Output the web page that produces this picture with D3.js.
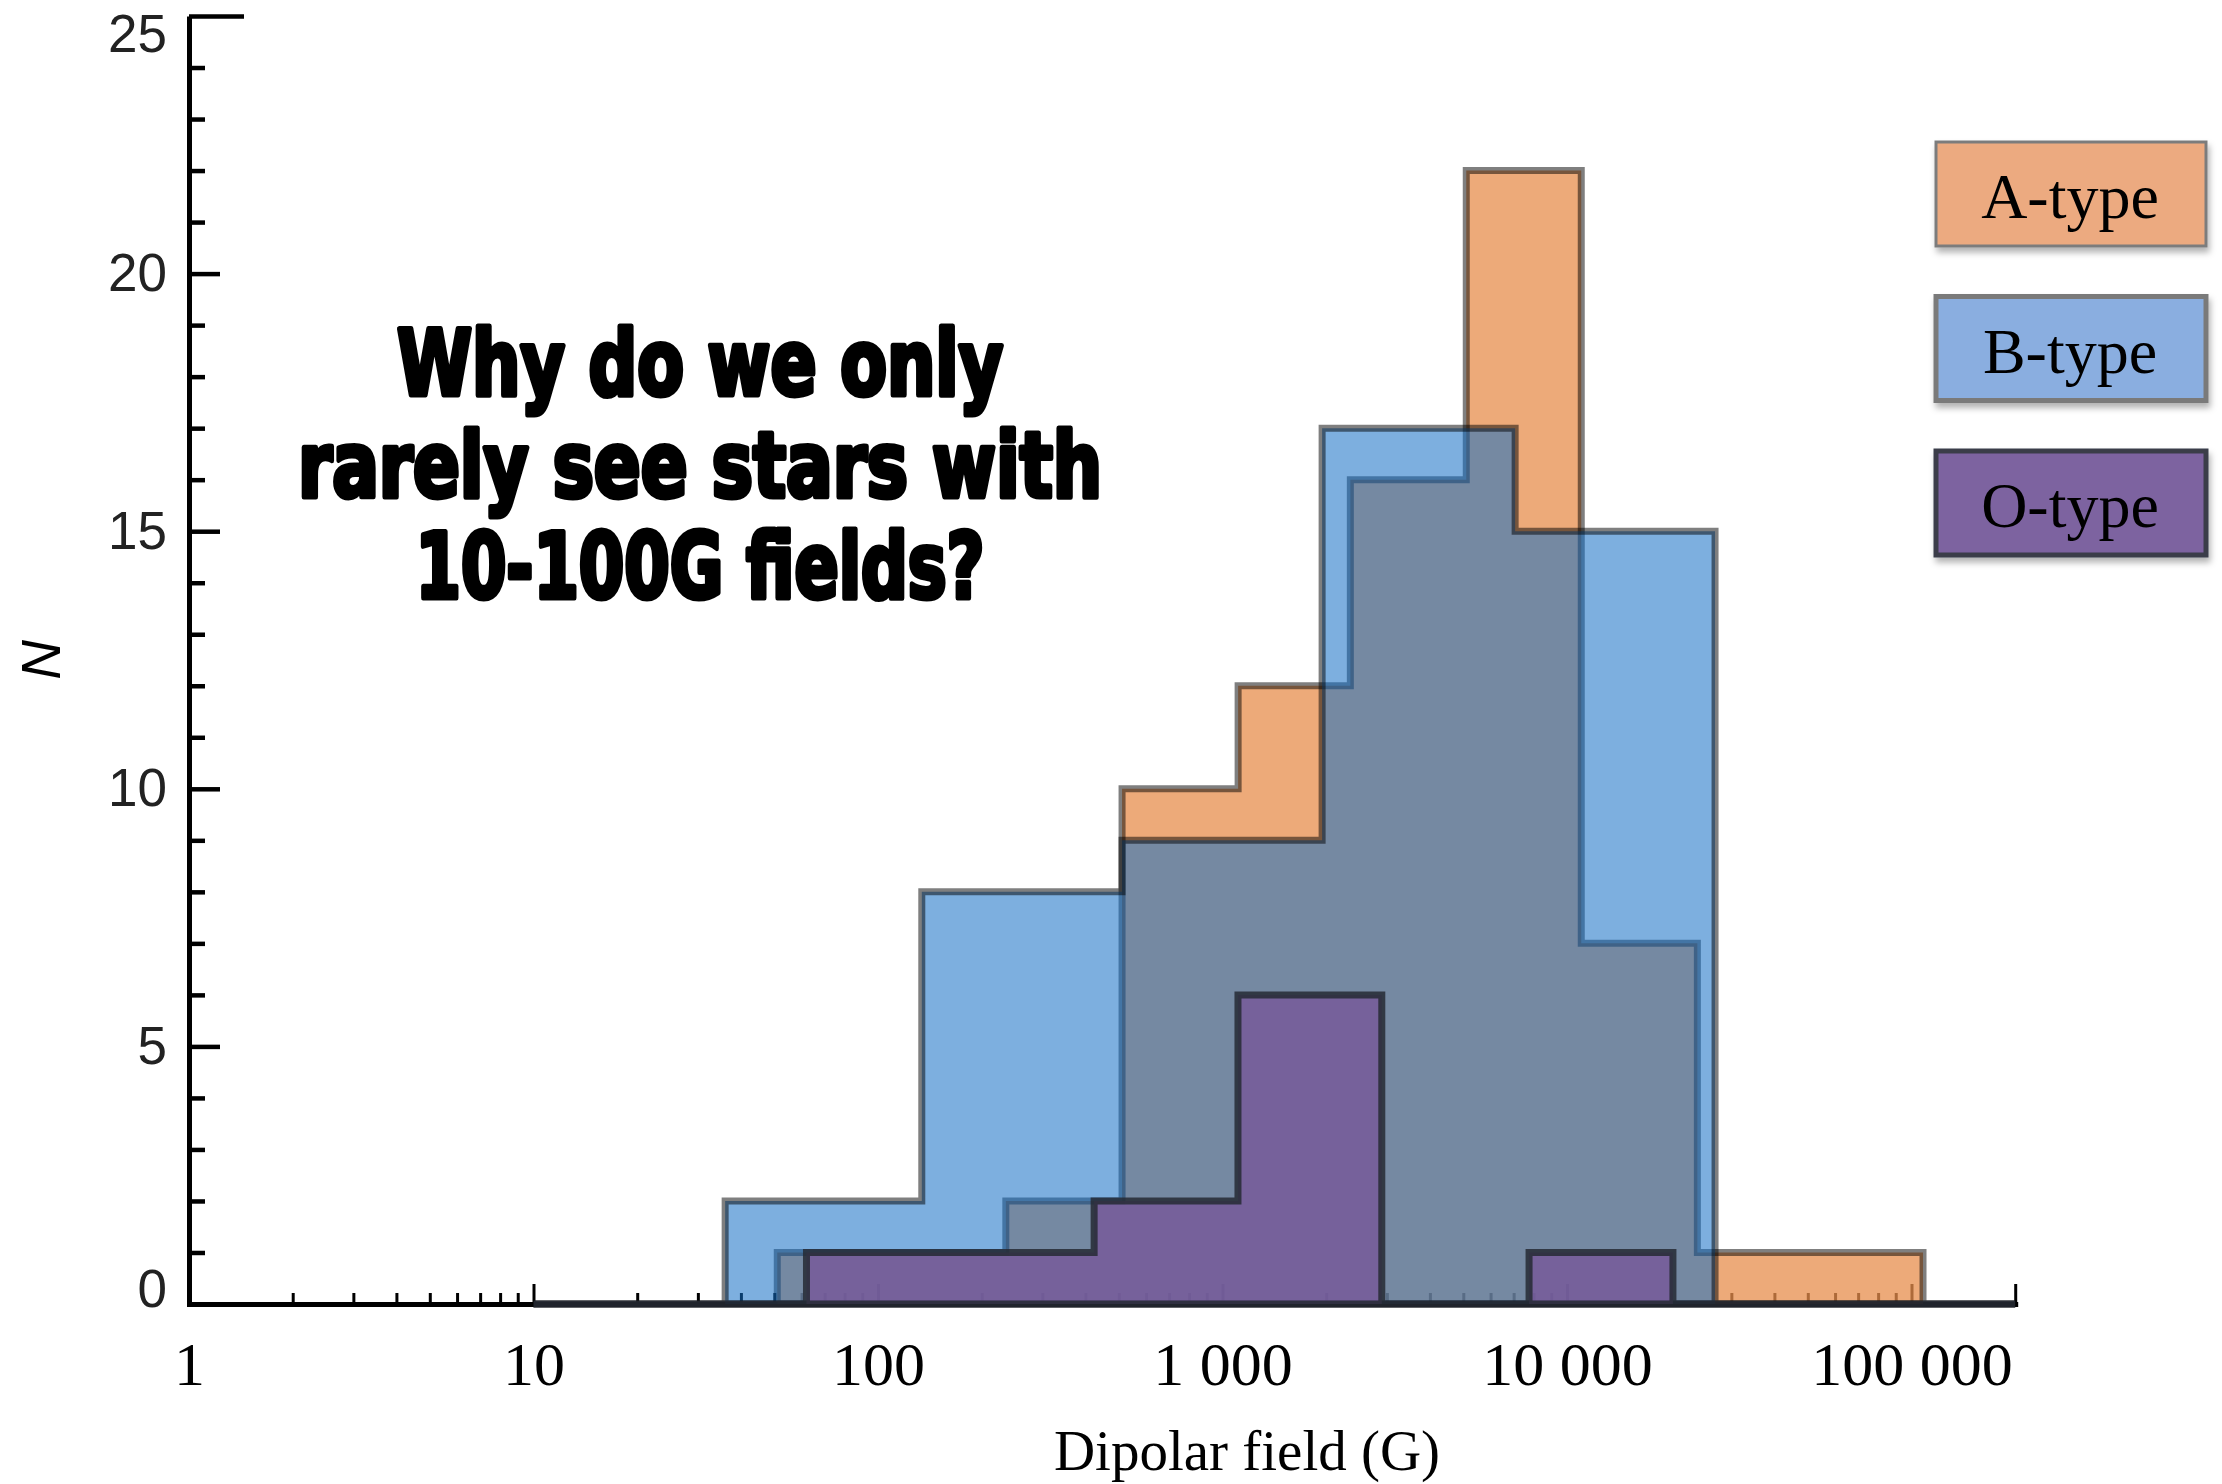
<!DOCTYPE html>
<html>
<head>
<meta charset="utf-8">
<script src="https://cdnjs.cloudflare.com/ajax/libs/d3/7.8.5/d3.min.js"></script>
<style>
  body { margin: 0; background: #fff; }
  svg { display: block; }
</style>
</head>
<body>
<svg width="2222" height="1484"></svg>
<script>

// Data

var fieldMax = 2e5;     // right end of the log axis
var histStart = 10;     // histogram outlines run along zero from here

// A-type stars (bin edges in G, counts per bin)
var aEdges = [51, 235, 511, 1110, 2350, 5100, 11000, 23900, 108000];
var aCounts = [1, 2, 10, 12, 16, 22, 7, 1];

// B-type stars
var bEdges = [36, 134, 511, 1946, 7070, 26900];
var bCounts = [2, 8, 9, 17, 15];

// O-type stars
var oEdges = [62, 424, 1109, 2900, 7760, 20300];
var oCounts = [1, 2, 6, 0, 1];

var xTickValues = [1, 10, 100, 1000, 10000, 100000];
var xTickLabels = ["1", "10", "100", "1 000", "10 000", "100 000"];
var yTickValues = [0, 5, 10, 15, 20, 25];

var legendNames = ["A-type", "B-type", "O-type"];
var noteLines = ["Why do we only", "rarely see stars with", "10-100G fields?"];


var svg = d3.select("svg");

svg.append("rect").attr("width", 2222).attr("height", 1484).attr("fill", "#fff");

var x = d3.scaleLog().domain([1, fieldMax]).range([189, 189 + 344.5 * Math.log10(fieldMax)]),
    y = d3.scaleLinear().domain([0, 25]).range([1304, 16]);

var serif = "'Liberation Serif', 'Times New Roman', serif",
    sans = "'Liberation Sans', Arial, sans-serif";

// ---- y axis ----
var yMinor = d3.range(0, 26).filter(function(v) { return v % 5 != 0; });

svg.append("g")
    .attr("transform", "translate(" + x(1) + ",0)")
    .call(d3.axisLeft(y).tickValues(yMinor).tickSize(-16).tickSizeOuter(0).tickFormat(""))
    .call(function(g) { g.select(".domain").attr("stroke-width", 5).attr("stroke", "#000"); })
    .selectAll(".tick line").attr("stroke", "#000").attr("stroke-width", 4.5);

var yAxis = svg.append("g")
    .attr("transform", "translate(" + x(1) + ",0)")
    .call(d3.axisLeft(y).tickValues(yTickValues).tickSize(-31).tickSizeOuter(0).tickPadding(22))
    .attr("font-family", sans)
    .attr("font-size", 53);

yAxis.select(".domain").remove();
yAxis.selectAll(".tick line")
    .attr("stroke", "#000")
    .attr("stroke-width", 4.5)
    .attr("x2", function(d) { return d == 25 ? 55 : 31; });
yAxis.selectAll(".tick text")
    .attr("fill", "#222")
    .attr("y", function(d) { return d == 25 ? 19 : (d == 0 ? -14 : 0); });

// ---- x axis ----
var xAll = x.ticks();

var xAxis = svg.append("g")
    .attr("transform", "translate(0," + y(0) + ")")
    .call(d3.axisBottom(x).tickValues(xAll).tickSize(-11).tickSizeOuter(0).tickFormat(""));

xAxis.select(".domain").attr("stroke", "#000").attr("stroke-width", 5).attr("stroke-linecap", "square");
xAxis.selectAll(".tick line")
    .attr("stroke", "#000")
    .attr("stroke-width", 3)
    .attr("y2", function(d) {
      var isDecade = Math.abs(Math.log10(d) - Math.round(Math.log10(d))) < 1e-9;
      return (isDecade || d == fieldMax) ? -20 : -11;
    });

var xLabels = svg.append("g")
    .attr("transform", "translate(0," + y(0) + ")")
    .call(d3.axisBottom(x).tickValues(xTickValues).tickSize(0).tickPadding(37)
      .tickFormat(function(d, i) { return xTickLabels[i]; }))
    .attr("font-family", serif)
    .attr("font-size", 62);
xLabels.select(".domain").remove();
xLabels.selectAll(".tick text").attr("fill", "#000");

// axis titles
svg.append("text")
    .attr("x", 1247)
    .attr("y", 1470)
    .attr("text-anchor", "middle")
    .attr("font-family", serif)
    .attr("font-size", 57)
    .attr("fill", "#000")
    .text("Dipolar field (G)");

svg.append("text")
    .attr("transform", "translate(41,660) rotate(-90)")
    .attr("text-anchor", "middle")
    .attr("dominant-baseline", "central")
    .attr("font-family", sans)
    .attr("font-style", "italic")
    .attr("font-size", 55)
    .attr("fill", "#000")
    .text("N");

// ---- histograms ----
function steps(edges, counts) {
  var pts = [{f: histStart, n: 0}];
  edges.forEach(function(e, i) {
    pts.push({f: e, n: i < counts.length ? counts[i] : 0});
  });
  pts.push({f: fieldMax, n: 0});
  return pts;
}

var area = d3.area()
    .curve(d3.curveStepAfter)
    .x(function(d) { return x(d.f); })
    .y0(y(0))
    .y1(function(d) { return y(d.n); });

var series = [
  {name: "A", pts: steps(aEdges, aCounts), fill: "#e78e4c", fo: 0.75, stroke: "#000", so: 0.5},
  {name: "B", pts: steps(bEdges, bCounts), fill: "#136dc5", fo: 0.55, stroke: "#000", so: 0.5},
  {name: "O", pts: steps(oEdges, oCounts), fill: "#77579a", fo: 0.8, stroke: "#262a34", so: 0.85}
];

svg.selectAll(".hist")
    .data(series)
    .enter().append("path")
    .attr("class", "hist")
    .attr("d", function(s) { return area(s.pts); })
    .attr("fill", function(s) { return s.fill; })
    .attr("fill-opacity", function(s) { return s.fo; })
    .attr("stroke", function(s) { return s.stroke; })
    .attr("stroke-opacity", function(s) { return s.so; })
    .attr("stroke-width", 7)
    .attr("stroke-linejoin", "miter");

// ---- question note ----
var noteWidths = [606, 804, 569];

svg.append("g")
    .selectAll("text")
    .data(noteLines)
    .enter().append("text")
    .attr("x", 700)
    .attr("y", function(d, i) { return 395 + i * 101.5; })
    .attr("text-anchor", "middle")
    .attr("font-family", "'Liberation Sans Narrow', 'DejaVu Sans Condensed', 'Arial Narrow', sans-serif")
    .attr("font-weight", "bold")
    .attr("font-size", 90)
    .attr("textLength", function(d, i) { return noteWidths[i]; })
    .attr("lengthAdjust", "spacingAndGlyphs")
    .attr("fill", "#000")
    .attr("stroke", "#000")
    .attr("stroke-width", 5)
    .attr("stroke-linejoin", "round")
    .text(function(d) { return d; });

// ---- legend ----
var legendFill = ["#ecaa80", "#8aaee0", "#7d63a0"],
    legendStroke = ["#7c7c7c", "#7a7a7a", "#3a3d4a"],
    legendStrokeW = [3, 5, 5];

var defs = svg.append("defs");
defs.append("filter")
    .attr("id", "shadow")
    .attr("x", "-10%").attr("y", "-10%").attr("width", "130%").attr("height", "140%")
  .append("feDropShadow")
    .attr("dx", 2).attr("dy", 5).attr("stdDeviation", 3)
    .attr("flood-color", "#000").attr("flood-opacity", 0.3);

var legend = svg.selectAll(".legend")
    .data(legendNames)
    .enter().append("g")
    .attr("class", "legend")
    .attr("transform", function(d, i) { return "translate(1936," + (142 + i * 154.5) + ")"; });

legend.append("rect")
    .attr("width", 270)
    .attr("height", 104)
    .attr("fill", function(d, i) { return legendFill[i]; })
    .attr("stroke", function(d, i) { return legendStroke[i]; })
    .attr("stroke-width", function(d, i) { return legendStrokeW[i]; })
    .attr("filter", "url(#shadow)");

legend.append("text")
    .attr("x", 134)
    .attr("y", 76)
    .attr("text-anchor", "middle")
    .attr("font-family", serif)
    .attr("font-size", 64)
    .attr("fill", "#000")
    .text(function(d) { return d; });

</script>
</body>
</html>
